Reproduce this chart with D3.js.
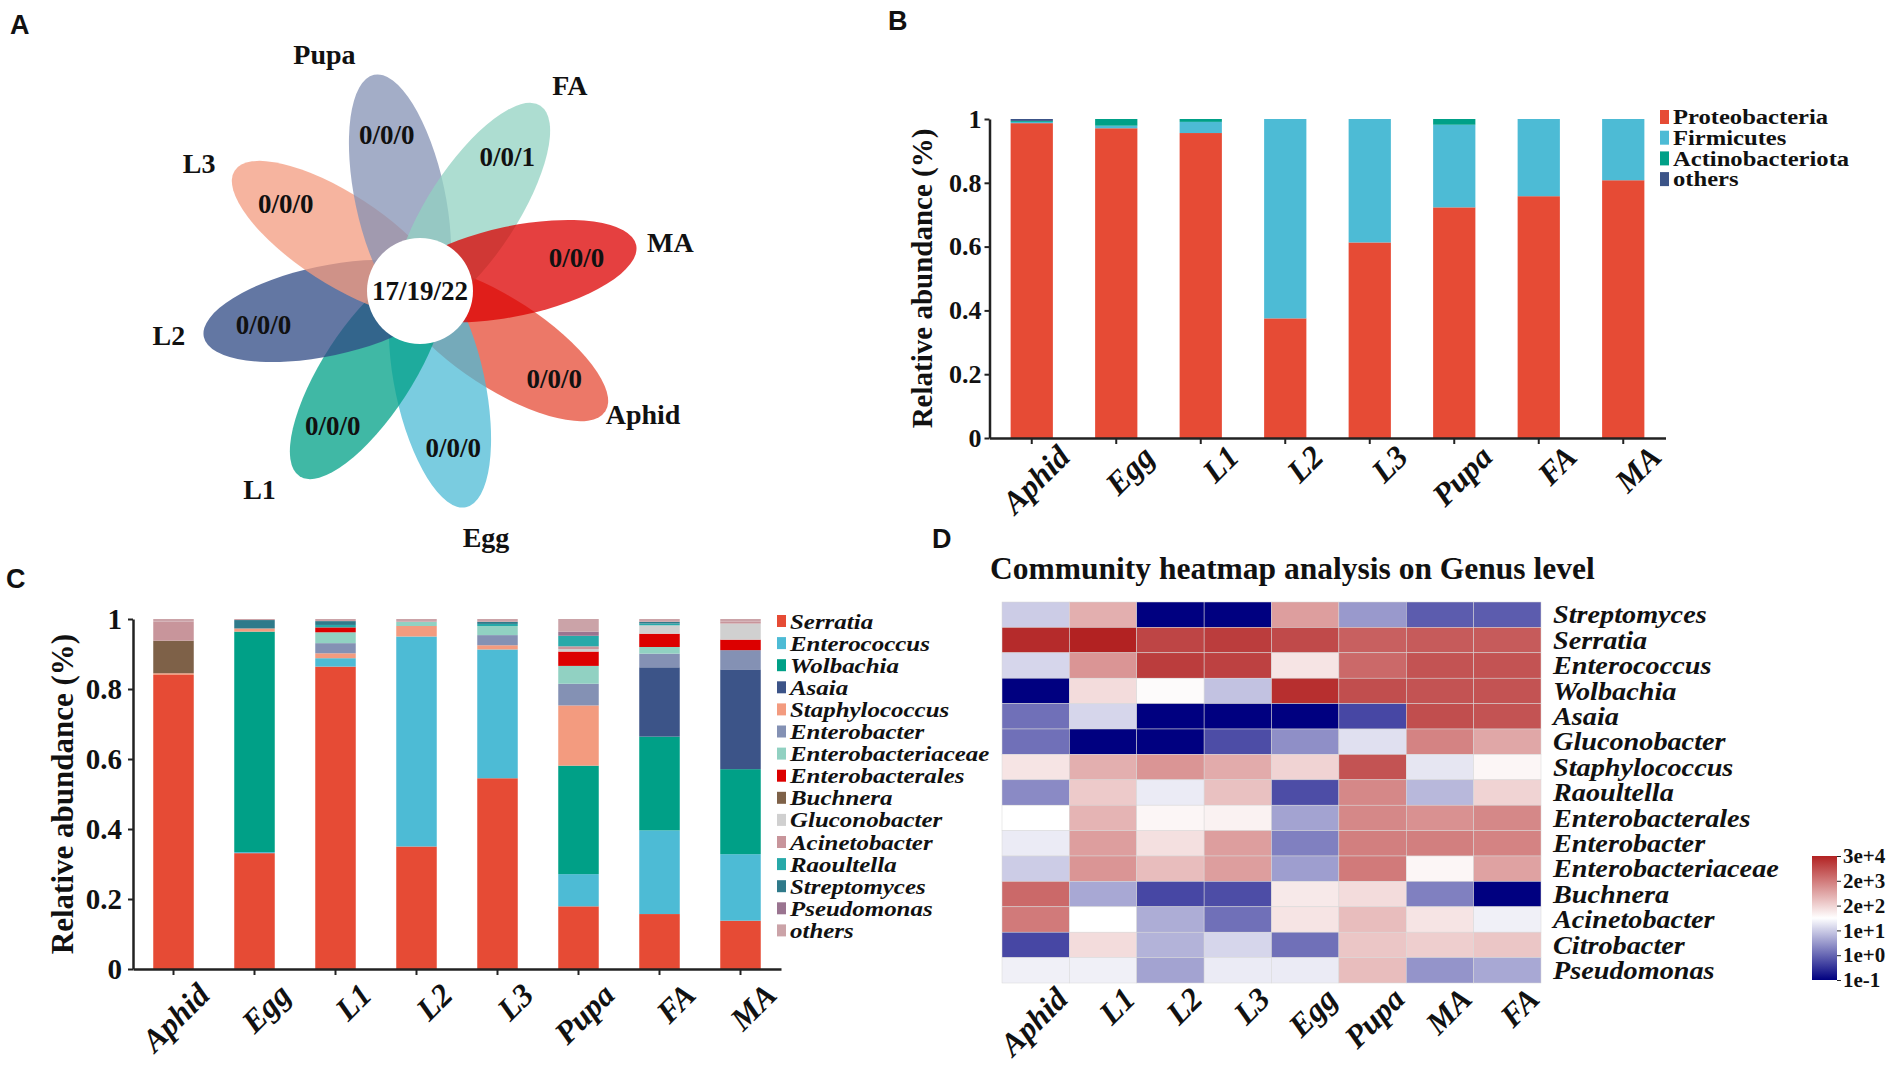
<!DOCTYPE html>
<html>
<head>
<meta charset="utf-8">
<script src="https://cdn.jsdelivr.net/npm/d3@7"></script>
<style>
  body { margin: 0; background: #fff; }
  text { font-family: "Liberation Serif", "Times New Roman", serif; font-weight: bold; fill: #111; }
  .letter { font-family: "Liberation Sans", Arial, sans-serif; font-size: 27px; }
  .it { font-style: italic; }
</style>
</head>
<body>
<svg id="fig" width="1902" height="1071"></svg>
<script>
// ---------- data ----------
// A: flower diagram, petals clockwise from Aphid
var vennSets = ["Aphid", "Egg", "L1", "L2", "L3", "Pupa", "FA", "MA"];
var vennColors = ["#E64B35", "#4DBBD5", "#00A087", "#2F4A84", "#F39B7F", "#8491B4", "#91D1C2", "#DC0000"];
var uniqueCounts = ["0/0/0", "0/0/0", "0/0/0", "0/0/0", "0/0/0", "0/0/0", "0/0/1", "0/0/0"];
var coreCount = "17/19/22";

// B: phylum level
var stages = ["Aphid", "Egg", "L1", "L2", "L3", "Pupa", "FA", "MA"];
var phyla = ["Proteobacteria", "Firmicutes", "Actinobacteriota", "others"];
var phylumColors = ["#E64B35", "#4DBBD5", "#00A087", "#3C5488"];
var proteobacteria   = [0.987, 0.971, 0.956, 0.375, 0.613, 0.723, 0.758, 0.808];
var firmicutes       = [0.004, 0.008, 0.035, 0.625, 0.387, 0.259, 0.242, 0.192];
var actinobacteriota = [0.003, 0.021, 0.009, 0, 0, 0.018, 0, 0];
var phylumOthers     = [0.006, 0, 0, 0, 0, 0, 0, 0];

// C: genus level (rows follow genera, columns follow stages)
var genera = ["Serratia", "Enterococcus", "Wolbachia", "Asaia", "Staphylococcus", "Enterobacter",
  "Enterobacteriaceae", "Enterobacterales", "Buchnera", "Gluconobacter", "Acinetobacter",
  "Raoultella", "Streptomyces", "Pseudomonas", "others"];
var genusColors = ["#E64B35", "#4DBBD5", "#00A087", "#3C5488", "#F39B7F", "#8491B4", "#91D1C2",
  "#DC0000", "#7E6148", "#D0D0D0", "#C8959B", "#27A9A9", "#2F7A8A", "#9A7490", "#CBA3A8"];
var genusShares = [
  [0.840, 0.331, 0.864, 0.350, 0.545, 0.179, 0.157, 0.138],
  [0,     0.003, 0.024, 0.600, 0.368, 0.092, 0.239, 0.190],
  [0,     0.630, 0,     0,     0,     0.310, 0.268, 0.243],
  [0,     0,     0,     0,     0,     0,     0.198, 0.285],
  [0.005, 0.009, 0.014, 0.030, 0.012, 0.172, 0,     0],
  [0,     0,     0.029, 0,     0.029, 0.062, 0.039, 0.055],
  [0,     0,     0.031, 0.012, 0.026, 0.051, 0.019, 0],
  [0,     0,     0.014, 0,     0,     0.041, 0.038, 0.030],
  [0.093, 0,     0,     0,     0,     0,     0,     0],
  [0,     0,     0,     0,     0,     0.007, 0.024, 0.046],
  [0.055, 0,     0,     0,     0,     0.008, 0,     0.006],
  [0,     0,     0.007, 0,     0.006, 0.030, 0.005, 0],
  [0,     0.024, 0.011, 0,     0.006, 0,     0.005, 0],
  [0,     0,     0,     0,     0,     0.012, 0,     0],
  [0.007, 0.003, 0.006, 0.008, 0.008, 0.036, 0.008, 0.007]
];

// D: heatmap, level on the colour key (0 = 1e-1 ... 5 = 3e+4)
var heatStages = ["Aphid", "L1", "L2", "L3", "Egg", "Pupa", "MA", "FA"];
var heatGenera = ["Streptomyces", "Serratia", "Enterococcus", "Wolbachia", "Asaia", "Gluconobacter",
  "Staphylococcus", "Raoultella", "Enterobacterales", "Enterobacter", "Enterobacteriaceae",
  "Buchnera", "Acinetobacter", "Citrobacter", "Pseudomonas"];
var heatLevel = [
  [2.0, 3.4, 0, 0, 3.6, 1.5, 0.9, 0.9],
  [4.9, 5.0, 4.6, 4.7, 4.55, 4.3, 4.35, 4.35],
  [2.1, 3.7, 4.7, 4.65, 2.8, 4.2, 4.45, 4.45],
  [0, 2.9, 2.55, 1.9, 4.85, 4.5, 4.45, 4.45],
  [1.1, 2.1, 0, 0, 0, 0.7, 4.5, 4.45],
  [1.1, 0, 0, 0.75, 1.4, 2.2, 3.9, 3.5],
  [2.8, 3.4, 3.7, 3.45, 3.0, 4.45, 2.25, 2.6],
  [1.35, 3.1, 2.3, 3.2, 0.75, 3.85, 1.8, 3.0],
  [2.5, 3.35, 2.6, 2.65, 1.6, 3.85, 3.75, 3.85],
  [2.3, 3.6, 2.85, 3.6, 1.25, 3.95, 3.95, 3.9],
  [2.0, 3.7, 3.25, 3.6, 1.55, 4.0, 2.6, 3.55],
  [4.2, 1.65, 0.7, 0.75, 2.75, 2.9, 1.25, 0],
  [4.0, 2.5, 1.7, 1.1, 2.8, 3.25, 2.8, 2.35],
  [0.7, 2.9, 1.75, 2.1, 1.1, 3.15, 3.05, 3.15],
  [2.35, 2.35, 1.6, 2.3, 2.3, 3.25, 1.45, 1.65]
];
var keyLabels = ["1e-1", "1e+0", "1e+1", "2e+2", "2e+3", "3e+4"];

// ---------- drawing ----------
var svg = d3.select("#fig");

[["A", 10, 34], ["B", 888, 30], ["C", 6, 588], ["D", 932, 548]].forEach(function(l) {
  svg.append("text").attr("class", "letter").attr("x", l[1]).attr("y", l[2]).text(l[0]);
});

// ----- A: flower -----
var flower = svg.append("g").attr("transform", "translate(420,291)");
var petalA = 125, petalB = 45, petalShift = 96;
var nameNudge = [-4, -3, 6, 2, -3, -10, 3, 1];
var ang = function(i) { return 33 + 45 * i; };
var rad = Math.PI / 180;

flower.selectAll("ellipse.petal")
  .data(vennSets)
  .join("ellipse")
  .attr("class", "petal")
  .attr("transform", (d, i) => `rotate(${ang(i)}) translate(${petalShift},0)`)
  .attr("rx", petalA)
  .attr("ry", petalB)
  .attr("fill", (d, i) => vennColors[i])
  .attr("fill-opacity", 0.75);

flower.append("circle").attr("r", 53).attr("fill", "#fff");
flower.append("text").attr("text-anchor", "middle").attr("dy", "0.35em")
  .style("font-size", "27px").text(coreCount);

flower.selectAll("text.count")
  .data(uniqueCounts)
  .join("text")
  .attr("class", "count")
  .attr("x", (d, i) => 160 * Math.cos(ang(i) * rad))
  .attr("y", (d, i) => 160 * Math.sin(ang(i) * rad))
  .attr("text-anchor", "middle").attr("dy", "0.35em")
  .style("font-size", "27px")
  .text(d => d);

flower.selectAll("text.name")
  .data(vennSets)
  .join("text")
  .attr("class", "name")
  .attr("x", (d, i) => 255 * Math.cos((ang(i) + nameNudge[i]) * rad))
  .attr("y", (d, i) => 255 * Math.sin((ang(i) + nameNudge[i]) * rad))
  .attr("text-anchor", "middle").attr("dy", "0.35em")
  .style("font-size", "28px")
  .text(d => d);

// ----- B and C: stacked bars -----
function stackedPanel(opt) {
  var x = d3.scaleBand().domain(stages).range(opt.xr).paddingInner(0.5).paddingOuter(0.25);
  var y = d3.scaleLinear().domain([0, 1]).range(opt.yr);

  var rows = stages.map(function(s, i) {
    var o = { stage: s };
    opt.keys.forEach(function(k, j) { o[k] = opt.values[j][i]; });
    return o;
  });
  var series = d3.stack().keys(opt.keys)(rows);

  var g = svg.append("g");
  g.selectAll("g.layer")
    .data(series)
    .join("g")
    .attr("fill", (d, i) => opt.colors[i])
    .selectAll("rect")
    .data(d => d)
    .join("rect")
    .attr("x", d => x(d.data.stage))
    .attr("width", x.bandwidth())
    .attr("y", d => y(Math.min(1, d[1])))
    .attr("height", d => Math.max(0, y(d[0]) - y(Math.min(1, d[1]))));

  var yAxis = g.append("g")
    .attr("transform", `translate(${opt.xr[0]},0)`)
    .call(d3.axisLeft(y).tickValues([0, 0.2, 0.4, 0.6, 0.8, 1])
      .tickFormat(d => d === 0 ? "0" : d === 1 ? "1" : d.toFixed(1))
      .tickSize(5).tickSizeOuter(0).tickPadding(opt.tickPad));
  yAxis.selectAll("text").style("font-size", opt.tickFont + "px");

  var xAxis = g.append("g")
    .attr("transform", `translate(0,${opt.yr[0]})`)
    .call(d3.axisBottom(x).tickSize(6).tickSizeOuter(0));
  xAxis.selectAll("text")
    .attr("class", "it")
    .attr("x", 0).attr("y", 0).attr("dy", 0)
    .attr("text-anchor", "end")
    .attr("transform", `translate(${opt.lblDx},${opt.lblDy}) rotate(-45)`)
    .style("font-size", "32px");

  [yAxis, xAxis].forEach(function(a) {
    a.select(".domain").attr("stroke", "#222").attr("stroke-width", 2.5);
    a.selectAll(".tick line").attr("stroke", "#222").attr("stroke-width", 2);
  });

  g.append("text")
    .attr("transform", `translate(${opt.titleX},${(opt.yr[0] + opt.yr[1]) / 2}) rotate(-90)`)
    .attr("text-anchor", "middle").attr("dy", "0.35em")
    .style("font-size", opt.titleFont + "px")
    .text("Relative abundance (%)");

  var leg = g.selectAll("g.leg")
    .data(opt.keys)
    .join("g")
    .attr("transform", (d, i) => `translate(${opt.legX},${opt.legY + i * opt.legStep})`);
  leg.append("rect")
    .attr("x", 0).attr("y", -opt.sqH / 2).attr("width", 9).attr("height", opt.sqH)
    .attr("fill", (d, i) => opt.colors[i]);
  leg.append("text")
    .attr("class", opt.italic ? "it" : null)
    .attr("transform", `translate(13,0) scale(${opt.legStretch},1)`)
    .attr("dy", "0.35em")
    .style("font-size", opt.legFont + "px")
    .text(d => d);
}

stackedPanel({
  keys: phyla, colors: phylumColors,
  values: [proteobacteria, firmicutes, actinobacteriota, phylumOthers],
  xr: [989.5, 1665.5], yr: [438, 119],
  tickFont: 26, tickPad: 3, titleX: 922, titleFont: 29, lblDx: 40, lblDy: 21,
  legX: 1660, legY: 117, legStep: 20.7, legFont: 20.5, legStretch: 1.2, sqH: 14, italic: false
});

stackedPanel({
  keys: genera, colors: genusColors,
  values: genusShares,
  xr: [133, 781], yr: [969, 619],
  tickFont: 29, tickPad: 6, titleX: 62, titleFont: 31, lblDx: 38, lblDy: 28,
  legX: 777, legY: 621, legStep: 22.1, legFont: 21.5, legStretch: 1.16, sqH: 12, italic: true
});

// ----- D: heatmap -----
var hx = d3.scaleBand().domain(heatStages).range([1002, 1541]);
var hy = d3.scaleBand().domain(heatGenera).range([602, 983]);
var heatColor = d3.scaleLinear().domain([0, 2.5, 5]).range(["#000080", "#ffffff", "#B22222"]);

var cells = [];
heatGenera.forEach(function(gname, r) {
  heatStages.forEach(function(s, c) { cells.push({ genus: gname, stage: s, v: heatLevel[r][c] }); });
});

var hm = svg.append("g");
hm.selectAll("rect")
  .data(cells)
  .join("rect")
  .attr("x", d => hx(d.stage))
  .attr("y", d => hy(d.genus))
  .attr("width", hx.bandwidth())
  .attr("height", hy.bandwidth())
  .attr("fill", d => heatColor(d.v))
  .attr("stroke", "#d8d8d8")
  .attr("stroke-width", 0.5);

hm.append("text")
  .attr("x", 990).attr("y", 579)
  .style("font-size", "31.5px")
  .text("Community heatmap analysis on Genus level");

hm.selectAll("text.row")
  .data(heatGenera)
  .join("text")
  .attr("class", "row it")
  .attr("transform", d => `translate(1553,${hy(d) + hy.bandwidth() / 2}) scale(1.13,1)`)
  .attr("dy", "0.35em")
  .style("font-size", "25px")
  .text(d => d);

hm.selectAll("text.col")
  .data(heatStages)
  .join("text")
  .attr("class", "col it")
  .attr("text-anchor", "end")
  .attr("transform", d => `translate(${hx(d) + hx.bandwidth() / 2 + 34},${983 + 18}) rotate(-45)`)
  .style("font-size", "32px")
  .text(d => d);

// colour key
var keyY = d3.scaleLinear().domain([0, 5]).range([980, 856]);
var grad = svg.append("defs").append("linearGradient")
  .attr("id", "keygrad").attr("x1", 0).attr("y1", 1).attr("x2", 0).attr("y2", 0);
d3.range(0, 5.01, 0.5).forEach(function(v) {
  grad.append("stop").attr("offset", v / 5).attr("stop-color", heatColor(v));
});
svg.append("rect")
  .attr("x", 1812).attr("y", keyY(5)).attr("width", 25).attr("height", keyY(0) - keyY(5))
  .attr("fill", "url(#keygrad)");
var keyAxis = svg.append("g")
  .attr("transform", "translate(1837,0)")
  .call(d3.axisRight(keyY).tickValues([0, 1, 2, 3, 4, 5]).tickFormat(i => keyLabels[i])
    .tickSize(4).tickPadding(2).tickSizeOuter(0));
keyAxis.select(".domain").remove();
keyAxis.selectAll(".tick line").attr("stroke", "#222");
keyAxis.selectAll("text").style("font-size", "21px");
</script>
</body>
</html>
